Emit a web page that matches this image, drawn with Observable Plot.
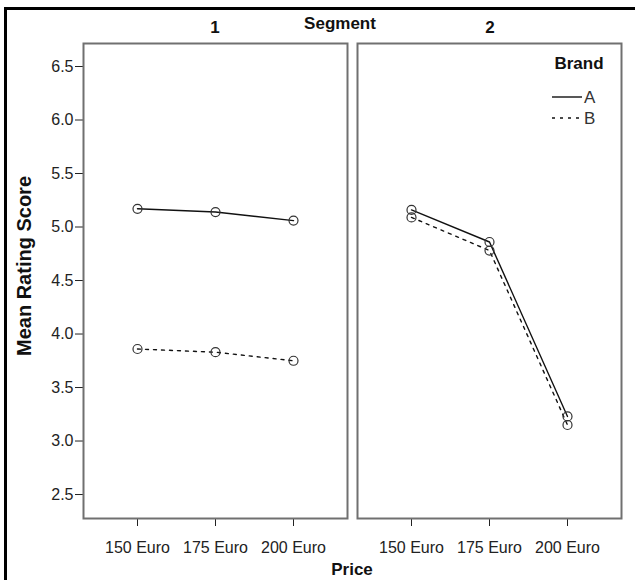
<!DOCTYPE html>
<html><head><meta charset="utf-8">
<script src="https://cdn.jsdelivr.net/npm/d3@7"></script>
<script src="https://cdn.jsdelivr.net/npm/@observablehq/plot@0.6"></script>
<style>
body{margin:0;background:#fff}
#chart{position:relative;width:635px;height:580px;overflow:hidden}
#chart svg{position:absolute;left:0;top:0}
</style>
</head><body><div id="chart"></div>
<script>
const segments = ["1", "2"];
const prices = ["150 Euro", "175 Euro", "200 Euro"];
const brands = ["A", "B"];
const seg1A = [5.17, 5.14, 5.06];
const seg1B = [3.86, 3.83, 3.75];
const seg2A = [5.16, 4.86, 3.23];
const seg2B = [5.09, 4.78, 3.15];
const yTicks = [2.5, 3.0, 3.5, 4.0, 4.5, 5.0, 5.5, 6.0, 6.5];

const series = [["1", "A", seg1A], ["1", "B", seg1B], ["2", "A", seg2A], ["2", "B", seg2B]];
const rows = [];
series.forEach(([s, b, vals]) => vals.forEach((v, i) => rows.push({segment: s, brand: b, price: prices[i], score: v})));

const font = "'Liberation Sans', Arial, sans-serif";

const plot = Plot.plot({
  width: 635, height: 580,
  marginLeft: 83, marginRight: 13, marginTop: 43, marginBottom: 62,
  style: {fontFamily: font, fontSize: "16px", color: "#222", background: "transparent"},
  fx: {domain: segments, paddingInner: 0.0364, paddingOuter: 0, axis: null, label: null},
  x: {type: "point", domain: prices, padding: 0.674, tickSize: 8, tickPadding: 15, label: null},
  y: {domain: [2.276, 6.715], ticks: yTicks, tickFormat: d => d.toFixed(1), tickSize: 8, tickPadding: 2, label: null},
  marks: [
    Plot.frame({stroke: "#707070", strokeWidth: 2}),
    Plot.line(rows.filter(d => d.brand === brands[0]), {fx: "segment", x: "price", y: "score", stroke: "#111", strokeWidth: 1.4}),
    Plot.line(rows.filter(d => d.brand === brands[1]), {fx: "segment", x: "price", y: "score", stroke: "#111", strokeWidth: 1.4, strokeDasharray: "3,5"}),
    Plot.dot(rows, {fx: "segment", x: "price", y: "score", r: 4.5, stroke: "#333", strokeWidth: 1.2, fill: "none"})
  ]
});

const chart = document.getElementById("chart");
chart.appendChild(plot);

const svg = d3.select(plot);
svg.selectAll("[aria-label='y-axis tick label'], [aria-label='x-axis tick label']").attr("font-size", 16);
const txt = (x, y, s, opts = {}) => svg.append("text")
  .attr("x", x).attr("y", y)
  .attr("text-anchor", opts.anchor || "middle")
  .attr("font-family", font)
  .attr("font-size", opts.size || 17)
  .attr("font-weight", opts.weight || "bold")
  .attr("fill", opts.fill || "#111")
  .text(s);

// panel headers
txt(215, 33, segments[0]);
txt(490, 33, segments[1]);
txt(340, 29, "Segment");
// axis titles
txt(352, 575, "Price");
svg.append("text")
  .attr("transform", "translate(31,266) rotate(-90)")
  .attr("text-anchor", "middle")
  .attr("font-family", font).attr("font-size", 20).attr("font-weight", "bold").attr("fill", "#111")
  .text("Mean Rating Score");

// legend
txt(579, 69, "Brand");
svg.append("line").attr("x1", 552).attr("x2", 582).attr("y1", 97).attr("y2", 97).attr("stroke", "#111").attr("stroke-width", 1.4);
svg.append("line").attr("x1", 552).attr("x2", 582).attr("y1", 118).attr("y2", 118).attr("stroke", "#111").attr("stroke-width", 1.4).attr("stroke-dasharray", "3,5");
txt(584, 103, brands[0], {anchor: "start", weight: "normal", size: 17, fill: "#333"});
txt(584, 124, brands[1], {anchor: "start", weight: "normal", size: 17, fill: "#333"});

// outer border
svg.append("rect").attr("x", 5.5).attr("y", 8.5).attr("width", 700).attr("height", 700)
  .attr("fill", "none").attr("stroke", "#000").attr("stroke-width", 3);
</script>
</body></html>
